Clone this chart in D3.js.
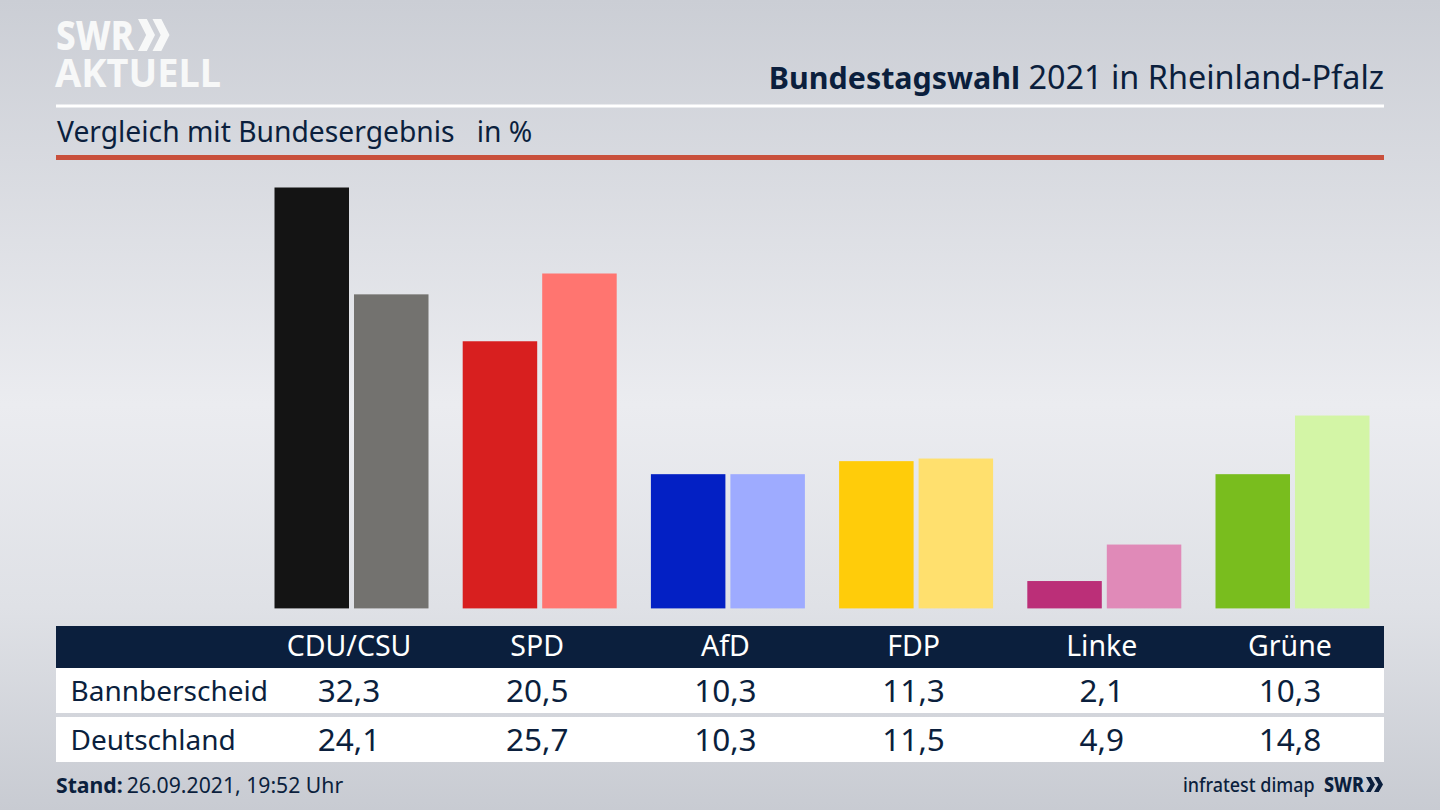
<!DOCTYPE html>
<html lang="de"><head><meta charset="utf-8">
<script src="https://cdn.jsdelivr.net/npm/d3@7"></script>
<style>html,body{margin:0;padding:0;background:#d5d7dd;overflow:hidden}svg{display:block}text{font-family:"Noto Sans",sans-serif}</style>
</head><body><svg id="c" width="1440" height="810"></svg>
<script>
const categories=["CDU/CSU","SPD","AfD","FDP","Linke","Grüne"];
const rowLabels=["Bannberscheid","Deutschland"];
const bannberscheid=[32.3,20.5,10.3,11.3,2.1,10.3];
const deutschland=[24.1,25.7,10.3,11.5,4.9,14.8];
const darkColors=["#141414","#d81f1f","#0320c4","#ffcc0a","#bb2f78","#79bd1e"];
const lightColors=["#73726f","#ff7570","#9eabff","#ffe06e","#e08ab8","#d3f5a6"];
const navy="#0b1f3d";

const svg=d3.select("#c");
const defs=svg.append("defs");
const g=defs.append("linearGradient").attr("id","bg").attr("x1",0).attr("x2",0).attr("y1",0).attr("y2",1);
[[0,"#cbced5"],[0.5,"#ebecf0"],[0.75,"#dfe1e6"],[1,"#c8cbd2"]].forEach(d=>g.append("stop").attr("offset",d[0]).attr("stop-color",d[1]));
svg.append("rect").attr("width",1440).attr("height",810).attr("fill","url(#bg)");

const x=d3.scalePoint().domain(categories).range([349,1290]);
const y=d3.scaleLinear().domain([0,32.3]).range([608.4,187.5]);
const barW=74.5,gap=5;

// header
svg.append("rect").attr("x",56).attr("y",104.5).attr("width",1328).attr("height",3).attr("fill","#fff");
svg.append("rect").attr("x",56).attr("y",155).attr("width",1328).attr("height",5).attr("fill","#c9503c");
const title=svg.append("text").attr("x",1384).attr("y",89).attr("text-anchor","end").attr("fill",navy);
title.append("tspan").attr("font-weight",700).attr("font-size",30.4).text("Bundestagswahl");
title.append("tspan").attr("font-size",32.4).text(" 2021 in Rheinland-Pfalz");
svg.append("text").attr("x",57).attr("y",142).attr("font-size",28.25).attr("fill",navy).style("white-space","pre").text("Vergleich mit Bundesergebnis   in %");

// logo
function chevrons(x0,y0,h,w,sep,fill){
  [0,1].forEach(i=>{
    const a=x0+i*sep, t=w*0.52;
    svg.append("path").attr("fill",fill).attr("d",`M${a},${y0}L${a+t},${y0}L${a+w},${y0+h/2}L${a+t},${y0+h}L${a},${y0+h}L${a+w-t},${y0+h/2}Z`);
  });
}
svg.append("text").attr("x",56).attr("y",50).attr("font-size",41).attr("font-weight",800).attr("fill","#f7f8f8").attr("textLength",78).attr("lengthAdjust","spacingAndGlyphs").text("SWR");
chevrons(138,19,32,17,14.5,"#f7f8f8");
svg.append("text").attr("x",55).attr("y",87).attr("font-size",40).attr("font-weight",700).attr("fill","#f7f8f8").attr("textLength",166).attr("lengthAdjust","spacingAndGlyphs").text("AKTUELL");

// bars
svg.append("g").selectAll("rect").data(categories).join("rect")
  .attr("x",d=>x(d)-barW).attr("width",barW)
  .attr("y",(d,i)=>y(bannberscheid[i])).attr("height",(d,i)=>y(0)-y(bannberscheid[i]))
  .attr("fill",(d,i)=>darkColors[i]);
svg.append("g").selectAll("rect").data(categories).join("rect")
  .attr("x",d=>x(d)+gap).attr("width",barW)
  .attr("y",(d,i)=>y(deutschland[i])).attr("height",(d,i)=>y(0)-y(deutschland[i]))
  .attr("fill",(d,i)=>lightColors[i]);

// table
svg.append("rect").attr("x",56).attr("y",626).attr("width",1328).attr("height",42).attr("fill",navy);
svg.append("rect").attr("x",56).attr("y",668).attr("width",1328).attr("height",45).attr("fill","#fff");
svg.append("rect").attr("x",56).attr("y",717).attr("width",1328).attr("height",45).attr("fill","#fff");
svg.append("g").selectAll("text").data(categories).join("text")
  .attr("x",d=>x(d)).attr("y",656).attr("text-anchor","middle").attr("font-size",28.5).attr("fill","#fff").text(d=>d);
const fmt=v=>v.toFixed(1).replace(".",",");
[[bannberscheid,701],[deutschland,750]].forEach(([vals,by],r)=>{
  svg.append("text").attr("x",70.5).attr("y",by).attr("font-size",28).attr("fill",navy).text(rowLabels[r]);
  svg.append("g").selectAll("text").data(categories).join("text")
    .attr("x",d=>x(d)).attr("y",by+1).attr("text-anchor","middle").attr("font-size",31.5).attr("fill",navy)
    .text((d,i)=>fmt(vals[i]));
});

// footer
const st=svg.append("text").attr("x",56).attr("y",793).attr("font-size",21.2).attr("fill",navy);
st.append("tspan").attr("font-weight",700).text("Stand:");
st.append("tspan").attr("dx",4).text("26.09.2021, 19:52 Uhr");
svg.append("text").attr("transform","translate(1183,792) scale(0.875,1)").attr("font-size",20.5).attr("font-weight",500).attr("fill",navy).text("infratest dimap");
svg.append("text").attr("x",1324).attr("y",792).attr("font-size",21).attr("font-weight",800).attr("fill",navy).attr("textLength",40).attr("lengthAdjust","spacingAndGlyphs").text("SWR");
chevrons(1366,777,15,9,8,navy);
</script></body></html>
